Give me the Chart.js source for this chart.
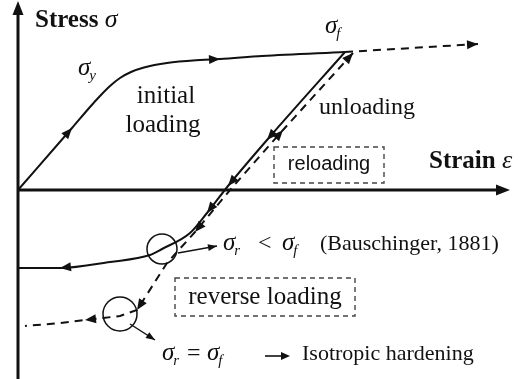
<!DOCTYPE html>
<html lang="en">
<head>
<meta charset="UTF-8">
<title>Loading, unloading and reverse loading</title>
<script src="https://cdn.jsdelivr.net/npm/chart.js"></script>
<style>
  body { margin: 0; background: #fff; }
  canvas { display: block; }
</style>
</head>
<body>
<canvas id="chart" width="524" height="379"></canvas>
<script>
// strain / stress pairs along each path (arbitrary units, origin at the axes crossing)
const initialLoading = [[0, 0], [0.54, 0.62], [0.72, 0.83], [0.82, 0.94], [0.92, 1.04], [1.02, 1.12],
  [1.13, 1.18], [1.26, 1.225], [1.49, 1.27], [1.82, 1.30], [2.02, 1.31], [2.44, 1.34], [3.27, 1.38]];
const unloadingPath = [[3.27, 1.38], [2.49, 0.50], [2.10, 0.04], [1.89, -0.23], [1.72, -0.43],
  [1.44, -0.59], [1.32, -0.65], [0.92, -0.72], [0.42, -0.78], [0, -0.78]];
const hardeningPath = [[3.27, 1.38], [4.60, 1.46]];
const reverseIsoPath = [[3.35, 1.37], [2.65, 0.60], [2.12, 0], [1.77, -0.42], [1.49, -0.73],
  [1.19, -1.20], [1.02, -1.26], [0.85, -1.28], [0.67, -1.30], [0.42, -1.33], [0.07, -1.36]];
const reverseYield = [[1.44, -0.59], [1.02, -1.24]];
const bauschLeader = [[1.60, -0.63], [1.99, -0.56]];
const isoLeader = [[1.12, -1.34], [1.37, -1.50]];

const strainRange = [-0.18, 5.06];
const stressRange = [-1.89, 1.90];

// [dataset, point index, +1 along data order / -1 against it, size]
const arrowMarks = [
  [0, 1, 1, 'big'], [0, 10, 1, 'big'],
  [1, 1, 1, 'big'], [1, 2, 1, 'big'], [1, 3, 1, 'big'], [1, 8, 1, 'big'],
  [2, 1, 1, 'big'],
  [3, 0, -1, 'big'], [3, 1, -1, 'big'], [3, 3, 1, 'big'], [3, 5, 1, 'big'], [3, 8, 1, 'big'],
  [4, 1, 1, 'small'], [5, 1, 1, 'small']
];

const ink = '#111';
const serif = '"Liberation Serif", "Times New Roman", serif';
const sans = '"Liberation Sans", Arial, sans-serif';

const toXY = pts => pts.map(([x, y]) => ({ x, y }));

function arrowHead(ctx, x, y, ang, len, half) {
  ctx.save();
  ctx.translate(x, y);
  ctx.rotate(ang);
  ctx.beginPath();
  ctx.moveTo(0, 0);
  ctx.lineTo(-len, -half);
  ctx.lineTo(-len, half);
  ctx.closePath();
  ctx.fill();
  ctx.restore();
}

const axesPlugin = {
  id: 'axes',
  beforeDatasetsDraw(chart) {
    const { ctx, scales: { x, y } } = chart;
    const x0 = x.getPixelForValue(0), y0 = y.getPixelForValue(0);
    const top = y.getPixelForValue(stressRange[1] - 0.01);
    const right = x.getPixelForValue(4.92);
    ctx.save();
    ctx.strokeStyle = ink;
    ctx.fillStyle = ink;
    ctx.lineWidth = 3;
    ctx.beginPath();
    ctx.moveTo(x0, chart.height);
    ctx.lineTo(x0, top + 10);
    ctx.moveTo(x0, y0);
    ctx.lineTo(right - 10, y0);
    ctx.stroke();
    arrowHead(ctx, x0, top, -Math.PI / 2, 14, 5.5);
    arrowHead(ctx, right, y0, 0, 14, 5.5);
    ctx.restore();
  }
};

const arrowPlugin = {
  id: 'arrows',
  afterDatasetsDraw(chart) {
    const ctx = chart.ctx;
    ctx.save();
    ctx.fillStyle = ink;
    arrowMarks.forEach(([ds, i, dir, size]) => {
      const pts = chart.getDatasetMeta(ds).data;
      const p = pts[i];
      let a, b;
      if (dir > 0) { a = i > 0 ? pts[i - 1] : p; b = i > 0 ? p : pts[i + 1]; }
      else { a = i < pts.length - 1 ? pts[i + 1] : p; b = i < pts.length - 1 ? p : pts[i - 1]; }
      const ang = Math.atan2(b.y - a.y, b.x - a.x);
      if (size === 'big') arrowHead(ctx, p.x, p.y, ang, 11, 4.5);
      else arrowHead(ctx, p.x, p.y, ang, 9, 3.5);
    });
    ctx.restore();
  }
};

const labelPlugin = {
  id: 'labels',
  afterDraw(chart) {
    const { ctx, scales: { x, y } } = chart;
    const px = v => x.getPixelForValue(v), py = v => y.getPixelForValue(v);
    ctx.save();
    ctx.fillStyle = ink;
    ctx.textBaseline = 'alphabetic';

    function text(str, sx, sy, font, align) {
      ctx.font = font;
      ctx.textAlign = align || 'left';
      ctx.fillText(str, px(sx), py(sy));
      return ctx.measureText(str).width;
    }
    // italic sigma with a subscript letter
    function sigma(sx, sy, sub) {
      ctx.font = 'italic 25px ' + serif;
      ctx.textAlign = 'left';
      const X = px(sx), Y = py(sy);
      ctx.fillText('σ', X, Y);
      const w = ctx.measureText('σ').width;
      ctx.font = 'italic 15px ' + serif;
      ctx.fillText(sub, X + w - 1, Y + 5);
    }
    function dashedBox(x1, y1, x2, y2) {
      ctx.save();
      ctx.strokeStyle = '#444';
      ctx.lineWidth = 1.4;
      ctx.setLineDash([5, 4]);
      ctx.strokeRect(px(x1), py(y1), px(x2) - px(x1), py(y2) - py(y1));
      ctx.restore();
    }

    // axis titles
    const w1 = text('Stress ', 0.17, 1.63, 'bold 25px ' + serif);
    ctx.font = 'italic 26px ' + serif;
    ctx.fillText('σ', px(0.17) + w1, py(1.63));
    const w2 = text('Strain ', 4.11, 0.22, 'bold 25px ' + serif);
    ctx.font = 'italic 26px ' + serif;
    ctx.fillText('ε', px(4.11) + w2, py(0.22));

    sigma(0.60, 1.15, 'y');
    sigma(3.07, 1.57, 'f');

    text('initial', 1.48, 0.87, '25px ' + serif, 'center');
    text('loading', 1.45, 0.58, '25px ' + serif, 'center');
    text('unloading', 3.01, 0.76, '24px ' + serif);

    dashedBox(2.56, 0.43, 3.66, 0.07);
    text('reloading', 3.11, 0.20, '20px ' + sans, 'center');

    // reverse yield compared with the flow stress
    sigma(2.05, -0.60, 'r');
    text('<', 2.40, -0.60, '24px ' + serif);
    sigma(2.64, -0.60, 'f');
    text('(Bauschinger, 1881)', 3.02, -0.60, '22px ' + serif);

    dashedBox(1.57, -0.88, 3.37, -1.26);
    text('reverse loading', 2.47, -1.14, '25px ' + serif, 'center');

    sigma(1.44, -1.70, 'r');
    text('=', 1.69, -1.70, '24px ' + serif);
    sigma(1.89, -1.70, 'f');
    ctx.strokeStyle = ink;
    ctx.lineWidth = 1.6;
    ctx.beginPath();
    ctx.moveTo(px(2.47), py(-1.66));
    ctx.lineTo(px(2.64), py(-1.66));
    ctx.stroke();
    arrowHead(ctx, px(2.72), py(-1.66), 0, 9, 4);
    text('Isotropic hardening', 2.84, -1.70, '22px ' + serif);
    ctx.restore();
  }
};

const pathStyle = {
  showLine: true,
  borderColor: ink,
  borderWidth: 2,
  pointRadius: 0,
  pointHoverRadius: 0
};

new Chart(document.getElementById('chart'), {
  type: 'scatter',
  data: {
    datasets: [
      { ...pathStyle, data: toXY(initialLoading), cubicInterpolationMode: 'monotone' },
      { ...pathStyle, data: toXY(unloadingPath), cubicInterpolationMode: 'monotone' },
      { ...pathStyle, data: toXY(hardeningPath), borderDash: [8, 6] },
      { ...pathStyle, data: toXY(reverseIsoPath), borderDash: [8, 6] },
      { ...pathStyle, data: toXY(bauschLeader), borderWidth: 1.4 },
      { ...pathStyle, data: toXY(isoLeader), borderWidth: 1.4 },
      {
        data: toXY(reverseYield),
        showLine: false,
        pointStyle: 'circle',
        pointRadius: [15, 17],
        pointHoverRadius: [15, 17],
        backgroundColor: 'rgba(0,0,0,0)',
        borderColor: ink,
        borderWidth: 1.5
      }
    ]
  },
  options: {
    responsive: false,
    animation: false,
    devicePixelRatio: 1,
    layout: { padding: 0, autoPadding: false },
    events: [],
    scales: {
      x: { type: 'linear', min: strainRange[0], max: strainRange[1], display: false },
      y: { type: 'linear', min: stressRange[0], max: stressRange[1], display: false }
    },
    plugins: {
      legend: { display: false },
      tooltip: { enabled: false }
    }
  },
  plugins: [axesPlugin, arrowPlugin, labelPlugin]
});
</script>
</body>
</html>
